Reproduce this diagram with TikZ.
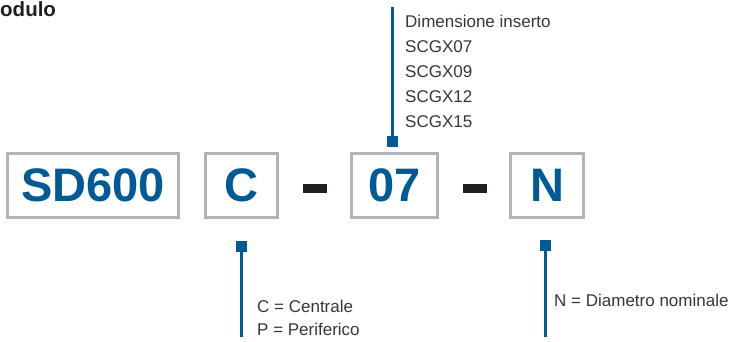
\documentclass[tikz,border=0pt]{standalone}
\usepackage{fontspec}
\setmainfont{Liberation Sans}
\usepackage{tikz}
\usetikzlibrary{positioning}

\definecolor{codeblue}{RGB}{0,90,150}
\definecolor{boxgray}{RGB}{178,179,183}
\definecolor{darkink}{RGB}{35,31,32}

\tikzset{
  codebox/.style={draw=boxgray, line width=3pt, inner sep=0pt, minimum height=64pt,
    text=codeblue, font=\fontsize{47}{47}\selectfont\bfseries},
  dashbar/.style={fill=darkink, inner sep=0pt, minimum width=24pt, minimum height=9.5pt},
  marker/.style={fill=codeblue, inner sep=0pt, minimum size=11pt},
  leader/.style={draw=codeblue, line width=2.5pt},
  note/.style={inner sep=0pt, anchor=base west, text=darkink!90, font=\fontsize{17}{17}\selectfont}
}

\begin{document}
\begin{tikzpicture}[x=1pt, y=-1pt]

\useasboundingbox (0,0) rectangle (734,342);

% Titolo (tagliato)
\node[inner sep=0pt, anchor=base west, text=darkink, font=\fontsize{20.5}{20.5}\selectfont\bfseries]
  (title) at (0,17) {odulo};

% Caselle del codice
\node[codebox, minimum width=171pt] (sd) at (93,185.5) {SD600};
\node[codebox, minimum width=72pt] (cc) at (241.5,185.5) {C};
\node[dashbar] (d1) at (315,188.5) {};
\node[codebox, minimum width=86pt] (dim) at (394.5,185.5) {07};
\node[dashbar] (d2) at (474.5,188.5) {};
\node[codebox, minimum width=73pt] (nn) at (547,185.5) {N};

% Richiamo dimensione inserto
\node[marker] (m1) at (392.5,142) {};
\coordinate (t1) at (392.5,7);
\draw[leader] (m1.center) -- (t1);
\foreach \i/\txt in {0/Dimensione inserto, 1/SCGX07, 2/SCGX09, 3/SCGX12, 4/SCGX15}
  \node[note] (dimtxt\i) at (405,28+25*\i) {\txt};

% Richiamo posizione
\node[marker] (m2) at (241.5,246.5) {};
\coordinate (t2) at (241.5,337);
\draw[leader] (m2.center) -- (t2);
\node[note] (ctxt) at (257,312) {C = Centrale};
\node[note] (ptxt) at (257,335) {P = Periferico};

% Richiamo diametro
\node[marker] (m3) at (545.5,245.5) {};
\coordinate (t3) at (545.5,337);
\draw[leader] (m3.center) -- (t3);
\node[note] (ntxt) at (554,306) {N = Diametro nominale};

\end{tikzpicture}
\end{document}
